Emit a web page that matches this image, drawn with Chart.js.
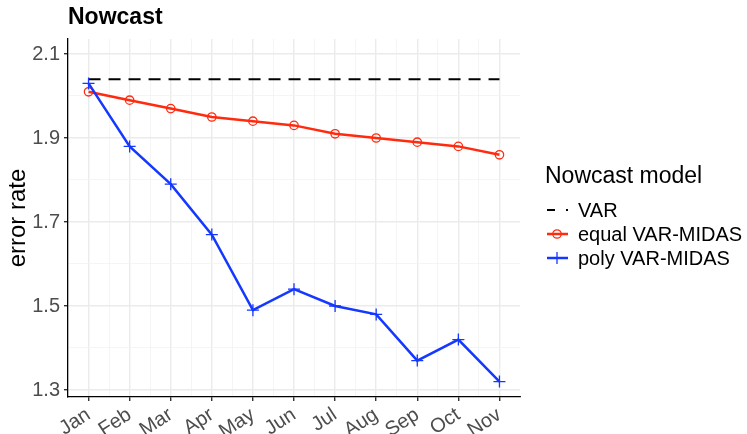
<!DOCTYPE html>
<html>
<head>
<meta charset="utf-8">
<script src="https://cdn.jsdelivr.net/npm/chart.js@4.4.1/dist/chart.umd.min.js"></script>
<style>
  body { margin: 0; background: #fff; }
  canvas { display: block; }
</style>
</head>
<body>
<canvas id="chart" width="747" height="434"></canvas>
<script>
// data
const months = ["Jan", "Feb", "Mar", "Apr", "May", "Jun", "Jul", "Aug", "Sep", "Oct", "Nov"];
const varErr = [2.04, 2.04, 2.04, 2.04, 2.04, 2.04, 2.04, 2.04, 2.04, 2.04, 2.04];
const equalErr = [2.01, 1.99, 1.97, 1.95, 1.94, 1.93, 1.91, 1.90, 1.89, 1.88, 1.86];
const polyErr = [2.03, 1.88, 1.79, 1.67, 1.49, 1.54, 1.50, 1.48, 1.37, 1.42, 1.32];
const yTicks = [1.3, 1.5, 1.7, 1.9, 2.1];
const seriesNames = ["VAR", "equal VAR-MIDAS", "poly VAR-MIDAS"];

const FONT = "'Liberation Sans', Arial, Helvetica, sans-serif";
const RED = "#ff2b0f";
const BLUE = "#1438ff";

function points(values) {
  return values.map((v, i) => ({ x: i, y: v }));
}

function isMajorY(v) {
  return yTicks.some((t) => Math.abs(t - v) < 1e-6);
}

// legend drawn on the right, ggplot style
const sideLegend = {
  id: "sideLegend",
  afterDraw(chart) {
    const ctx = chart.ctx;
    const x0 = 545;
    ctx.save();
    ctx.fillStyle = "#000";
    ctx.textBaseline = "middle";
    ctx.font = "23px " + FONT;
    ctx.fillText("Nowcast model", x0, 177);
    ctx.font = "20px " + FONT;
    const rows = [210, 234, 258];
    chart.data.datasets.forEach((ds, i) => {
      const y = rows[i];
      ctx.strokeStyle = ds.borderColor;
      ctx.lineWidth = ds.borderWidth;
      ctx.setLineDash(i === 0 ? [8, 11] : []);
      ctx.beginPath();
      ctx.moveTo(x0 + 2, y);
      ctx.lineTo(x0 + 23, y);
      ctx.stroke();
      ctx.setLineDash([]);
      ctx.lineWidth = 1.3;
      if (ds.pointStyle === "circle") {
        ctx.beginPath();
        ctx.arc(x0 + 12, y, 4.2, 0, Math.PI * 2);
        ctx.stroke();
      } else if (ds.pointStyle === "cross") {
        ctx.beginPath();
        ctx.moveTo(x0 + 12 - 6, y);
        ctx.lineTo(x0 + 12 + 6, y);
        ctx.moveTo(x0 + 12, y - 6);
        ctx.lineTo(x0 + 12, y + 6);
        ctx.stroke();
      }
      ctx.fillStyle = "#000";
      ctx.fillText(ds.label, x0 + 33, y + 1);
    });
    ctx.restore();
  },
};

new Chart(document.getElementById("chart"), {
  type: "line",
  data: {
    datasets: [
      {
        label: seriesNames[0],
        data: points(varErr),
        borderColor: "#000",
        borderWidth: 2,
        borderDash: [12, 8],
        pointRadius: 0,
        pointStyle: false,
        order: 3,
      },
      {
        label: seriesNames[1],
        data: points(equalErr),
        borderColor: RED,
        borderWidth: 2.5,
        pointStyle: "circle",
        pointRadius: 4.2,
        pointBorderWidth: 1.3,
        pointBackgroundColor: "rgba(0,0,0,0)",
        pointBorderColor: RED,
        order: 2,
      },
      {
        label: seriesNames[2],
        data: points(polyErr),
        borderColor: BLUE,
        borderWidth: 2.5,
        pointStyle: "cross",
        pointRadius: 6,
        pointBorderWidth: 1.3,
        pointBorderColor: BLUE,
        order: 1,
      },
    ],
  },
  options: {
    responsive: false,
    animation: false,
    layout: {
      padding: { top: 4, right: 227, bottom: 0, left: 0 },
    },
    plugins: {
      legend: { display: false },
      tooltip: { enabled: false },
      title: {
        display: true,
        text: "Nowcast",
        align: "start",
        fullSize: false,
        color: "#000",
        font: { family: FONT, size: 23, weight: "bold" },
        padding: { top: 0, bottom: 7.4 },
      },
    },
    scales: {
      x: {
        type: "linear",
        min: -0.5,
        max: 10.5,
        afterFit: (s) => { s.height = 37; },
        ticks: {
          stepSize: 0.5,
          includeBounds: false,
          autoSkip: false,
          minRotation: 33,
          maxRotation: 33,
          padding: 2,
          color: "#4d4d4d",
          font: { family: FONT, size: 20 },
          callback: (v) => (Number.isInteger(v) ? months[v] : ""),
        },
        grid: {
          color: (c) => {
            const v = c.tick ? c.tick.value : 0;
            if (v < -0.4 || v > 10.4) return "rgba(0,0,0,0)";
            return Number.isInteger(v) ? "#ebebeb" : "#f3f3f3";
          },
          lineWidth: (c) => (c.tick && Number.isInteger(c.tick.value) ? 1.4 : 0.8),
          tickColor: (c) => (c.tick && Number.isInteger(c.tick.value) ? "#333" : "rgba(0,0,0,0)"),
          tickLength: 4,
        },
        border: { display: true, color: "#000", width: 1.3 },
      },
      y: {
        type: "linear",
        min: 1.2833,
        max: 2.1357,
        afterFit: (s) => { s.width = 68; },
        title: {
          display: true,
          text: "error rate",
          color: "#000",
          font: { family: FONT, size: 24 },
          padding: { top: 4, bottom: 0 },
        },
        ticks: {
          stepSize: 0.1,
          includeBounds: false,
          padding: 4,
          color: "#4d4d4d",
          font: { family: FONT, size: 20 },
          callback: (v) => (isMajorY(v) ? v.toFixed(1) : ""),
        },
        grid: {
          color: (c) => (c.tick && isMajorY(c.tick.value) ? "#ebebeb" : "#f3f3f3"),
          lineWidth: (c) => (c.tick && isMajorY(c.tick.value) ? 1.4 : 0.8),
          tickColor: (c) => (c.tick && isMajorY(c.tick.value) ? "#333" : "rgba(0,0,0,0)"),
          tickLength: 4,
        },
        border: { display: true, color: "#000", width: 1.3 },
      },
    },
  },
  plugins: [sideLegend],
});
</script>
</body>
</html>
